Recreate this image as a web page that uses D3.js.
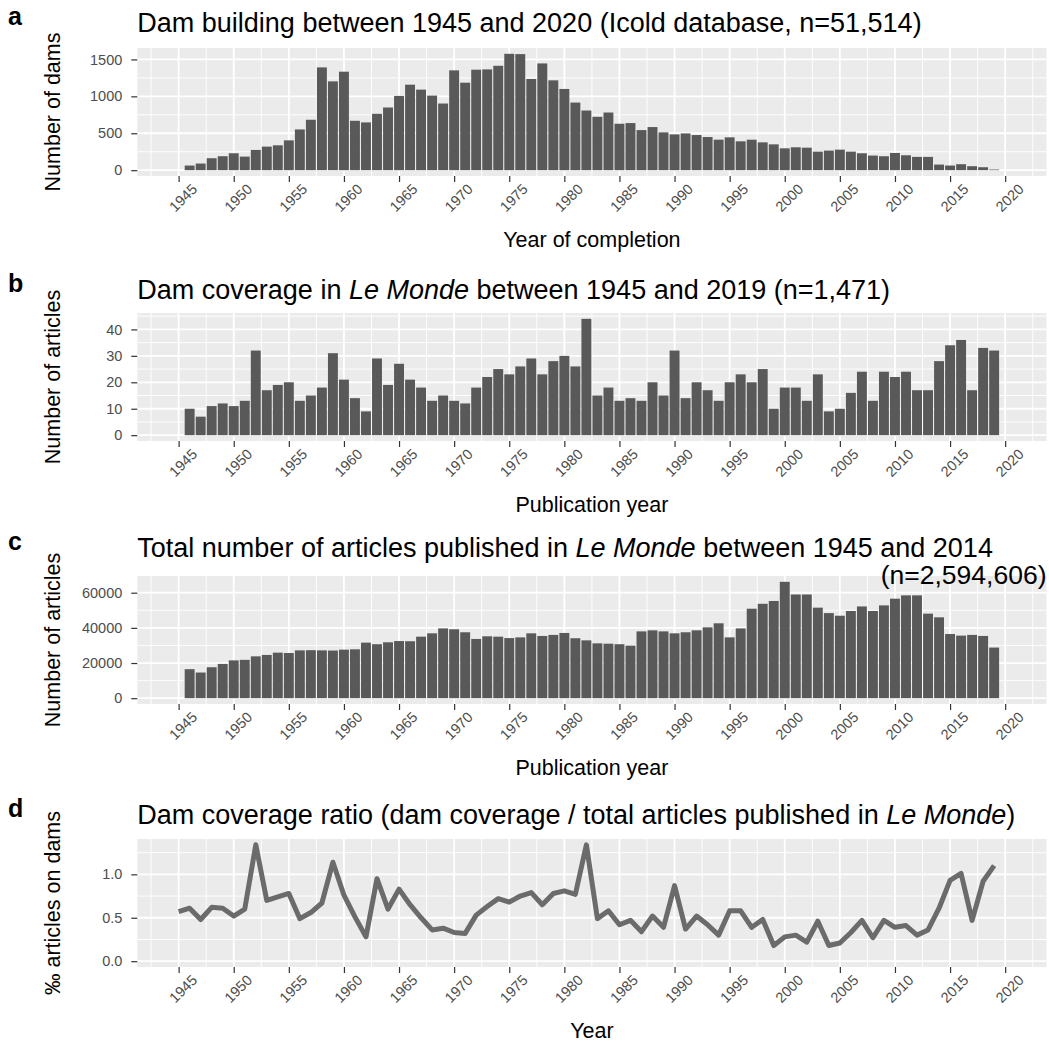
<!DOCTYPE html>
<html>
<head>
<meta charset="utf-8">
<script src="https://cdn.jsdelivr.net/npm/d3@7"></script>
<style>
  body { margin: 0; background: #fff; }
  text { font-family: "Liberation Sans", Arial, sans-serif; }
</style>
</head>
<body>
<svg id="chart" width="1049" height="1043"></svg>
<script>
// bar years (as placed on the x axis) and line years
const barYears = d3.range(1946, 2020);
const lineYears = d3.range(1945, 2020);
const xTicks = [1945, 1950, 1955, 1960, 1965, 1970, 1975, 1980, 1985, 1990, 1995, 2000, 2005, 2010, 2015, 2020];

// a: dams completed per year (Icold)
const damsBuilt = [
  63, 90, 162, 189, 229, 184, 274, 319, 337, 404,
  552, 683, 1392, 1203, 1334, 669, 647, 763, 849, 1006,
  1158, 1091, 1010, 903, 1352, 1185, 1361, 1365, 1414, 1576,
  1572, 1235, 1446, 1217, 1100, 916, 808, 723, 781, 629,
  638, 543, 584, 512, 485, 498, 476, 449, 413, 445,
  391, 413, 377, 350, 296, 310, 305, 251, 265, 278,
  251, 229, 198, 189, 233, 202, 180, 180, 76, 63,
  81, 54, 40, 9
];

// b: dam articles in Le Monde
const damArticles = [
  10, 7, 11, 12, 11, 13, 32, 17, 19, 20,
  13, 15, 18, 31, 21, 14, 9, 29, 19, 27,
  21, 18, 13, 15, 13, 12, 18, 22, 25, 23,
  26, 29, 23, 28, 30, 26, 44, 15, 18, 13,
  14, 13, 20, 15, 32, 14, 20, 17, 13, 20,
  23, 20, 25, 10, 18, 18, 13, 23, 9, 10,
  16, 24, 13, 24, 22, 24, 17, 17, 28, 34,
  36, 17, 33, 32
];

// c: total articles published in Le Monde
const totalArticles = [
  16500, 14600, 17600, 19500, 21500, 21800, 23800, 24600, 25900, 25700,
  27200, 27300, 27200, 27100, 27600, 27800, 31600, 30700, 31800, 32500,
  32400, 35000, 36900, 39700, 39200, 37500, 33700, 35200, 35000, 34200,
  34600, 36900, 35400, 36000, 37100, 34100, 32900, 31200, 31000, 30700,
  29900, 38000, 38600, 38000, 36900, 37500, 38600, 40300, 42600, 34600,
  39700, 50900, 53700, 55300, 66200, 59000, 59000, 51500, 48400, 46900,
  49600, 52200, 49600, 52800, 56600, 58500, 58500, 48100, 46000, 36500,
  35600, 36000, 35400, 28800
];

// d: dam coverage ratio (per mille)
const coverageRatio = [
  0.57, 0.61, 0.48, 0.62, 0.61, 0.52, 0.60, 1.34, 0.70, 0.74,
  0.78, 0.49, 0.56, 0.67, 1.14, 0.76, 0.51, 0.28, 0.95, 0.60,
  0.83, 0.65, 0.50, 0.36, 0.38, 0.33, 0.32, 0.53, 0.63, 0.72,
  0.68, 0.75, 0.79, 0.65, 0.78, 0.81, 0.77, 1.34, 0.49, 0.58,
  0.42, 0.47, 0.34, 0.52, 0.39, 0.87, 0.37, 0.52, 0.42, 0.30,
  0.58, 0.58, 0.39, 0.48, 0.18, 0.28, 0.30, 0.22, 0.46, 0.18,
  0.21, 0.33, 0.47, 0.27, 0.47, 0.39, 0.41, 0.30, 0.36, 0.61,
  0.93, 1.01, 0.47, 0.92, 1.10
];

const panels = [
  {
    letter: 'a', top: 48, titleY: 32,
    title: [['Dam building between 1945 and 2020 (Icold database, n=51,514)', false]],
    yTitle: 'Number of dams', xTitle: 'Year of completion',
    yTicks: [0, 500, 1000, 1500], fmt: d3.format('d'),
    kind: 'bar', years: barYears, values: damsBuilt
  },
  {
    letter: 'b', top: 313, titleY: 299,
    title: [['Dam coverage in ', false], ['Le Monde', true], [' between 1945 and 2019 (n=1,471)', false]],
    yTitle: 'Number of articles', xTitle: 'Publication year',
    yTicks: [0, 10, 20, 30, 40], fmt: d3.format('d'),
    kind: 'bar', years: barYears, values: damArticles
  },
  {
    letter: 'c', top: 576, titleY: 557,
    title: [['Total number of articles published in ', false], ['Le Monde', true], [' between 1945 and 2014', false]],
    subTitle: '(n=2,594,606)',
    yTitle: 'Number of articles', xTitle: 'Publication year',
    yTicks: [0, 20000, 40000, 60000], fmt: d3.format('d'),
    kind: 'bar', years: barYears, values: totalArticles
  },
  {
    letter: 'd', top: 839, titleY: 824,
    title: [['Dam coverage ratio (dam coverage / total articles published in ', false], ['Le Monde', true], [')', false]],
    yTitle: '\u2030 articles on dams', xTitle: 'Year',
    yTicks: [0, 0.5, 1.0], fmt: d3.format('.1f'),
    kind: 'line', years: lineYears, values: coverageRatio
  }
];

const svg = d3.select('#chart');
const left = 137.3, right = 1046.5, panelH = 128;

const x = d3.scaleLinear().domain([1941.25, 2023.75]).range([left, right]);
const xMinor = d3.range(1942.5, 2023.75, 5);

panels.forEach(p => {
  const maxV = d3.max(p.values);
  const pad = maxV * 0.05;
  const y = d3.scaleLinear()
    .domain([0 - pad, maxV + pad])
    .range([p.top + panelH, p.top]);

  const g = svg.append('g');

  // panel background
  g.append('rect')
    .attr('x', left).attr('y', p.top)
    .attr('width', right - left).attr('height', panelH)
    .attr('fill', '#EBEBEB');

  // minor grid
  const step = p.yTicks[1] - p.yTicks[0];
  const yMinor = d3.range(p.yTicks[0] - step / 2, y.domain()[1], step)
    .filter(v => v > y.domain()[0] && v < y.domain()[1]);
  g.append('g').selectAll('line')
    .data(yMinor).join('line')
    .attr('x1', left).attr('x2', right)
    .attr('y1', d => y(d)).attr('y2', d => y(d))
    .attr('stroke', '#fff').attr('stroke-width', 0.9);
  g.append('g').selectAll('line')
    .data(xMinor).join('line')
    .attr('x1', d => x(d)).attr('x2', d => x(d))
    .attr('y1', p.top).attr('y2', p.top + panelH)
    .attr('stroke', '#fff').attr('stroke-width', 0.9);

  // major grid
  g.append('g').selectAll('line')
    .data(p.yTicks).join('line')
    .attr('x1', left).attr('x2', right)
    .attr('y1', d => y(d)).attr('y2', d => y(d))
    .attr('stroke', '#fff').attr('stroke-width', 1.8);
  g.append('g').selectAll('line')
    .data(xTicks).join('line')
    .attr('x1', d => x(d)).attr('x2', d => x(d))
    .attr('y1', p.top).attr('y2', p.top + panelH)
    .attr('stroke', '#fff').attr('stroke-width', 1.8);

  // data
  if (p.kind === 'bar') {
    g.append('g').selectAll('rect')
      .data(p.values).join('rect')
      .attr('x', (d, i) => x(p.years[i] - 0.45))
      .attr('width', x(1.9) - x(1))
      .attr('y', d => y(d))
      .attr('height', d => y(0) - y(d))
      .attr('fill', '#595959');
  } else {
    const line = d3.line()
      .x((d, i) => x(p.years[i]))
      .y(d => y(d));
    g.append('path')
      .datum(p.values)
      .attr('d', line)
      .attr('fill', 'none')
      .attr('stroke', '#6b6b6b')
      .attr('stroke-width', 5)
      .attr('stroke-linejoin', 'round');
  }

  // axes
  const xAxis = g.append('g')
    .attr('transform', `translate(0,${p.top + panelH})`)
    .call(d3.axisBottom(x).tickValues(xTicks).tickSize(6).tickFormat(d3.format('d')));
  xAxis.select('.domain').remove();
  xAxis.selectAll('line').attr('stroke', '#333').attr('stroke-width', 1.2);
  xAxis.selectAll('text')
    .attr('x', 0).attr('y', 0).attr('dy', null)
    .attr('transform', 'translate(19,14) rotate(-45)')
    .attr('text-anchor', 'end')
    .attr('fill', '#4D4D4D')
    .attr('font-size', 14.5)
    .attr('font-family', '"Liberation Sans", Arial, sans-serif');

  const yAxis = g.append('g')
    .attr('transform', `translate(${left},0)`)
    .call(d3.axisLeft(y).tickValues(p.yTicks).tickSize(6).tickPadding(9).tickFormat(p.fmt));
  yAxis.select('.domain').remove();
  yAxis.selectAll('line').attr('stroke', '#333').attr('stroke-width', 1.2);
  yAxis.selectAll('text')
    .attr('fill', '#4D4D4D')
    .attr('font-size', 14.5)
    .attr('font-family', '"Liberation Sans", Arial, sans-serif');

  // titles
  const title = g.append('text')
    .attr('x', left).attr('y', p.titleY)
    .attr('font-size', 27).attr('fill', '#000');
  p.title.forEach(([t, it]) => {
    title.append('tspan').text(t).attr('font-style', it ? 'italic' : 'normal');
  });
  if (p.subTitle) {
    g.append('text')
      .attr('x', right).attr('y', p.titleY + 27)
      .attr('text-anchor', 'end')
      .attr('font-size', 26.5).attr('fill', '#000')
      .text(p.subTitle);
  }

  g.append('text')
    .attr('x', 8).attr('y', p.titleY - 7)
    .attr('font-size', 25).attr('font-weight', 'bold')
    .text(p.letter);

  g.append('text')
    .attr('x', (left + right) / 2).attr('y', p.top + panelH + 71)
    .attr('text-anchor', 'middle')
    .attr('font-size', 21.5)
    .text(p.xTitle);

  g.append('text')
    .attr('transform', `translate(60,${p.top + panelH / 2}) rotate(-90)`)
    .attr('text-anchor', 'middle')
    .attr('font-size', 21.5)
    .text(p.yTitle);
});
</script>
</body>
</html>
